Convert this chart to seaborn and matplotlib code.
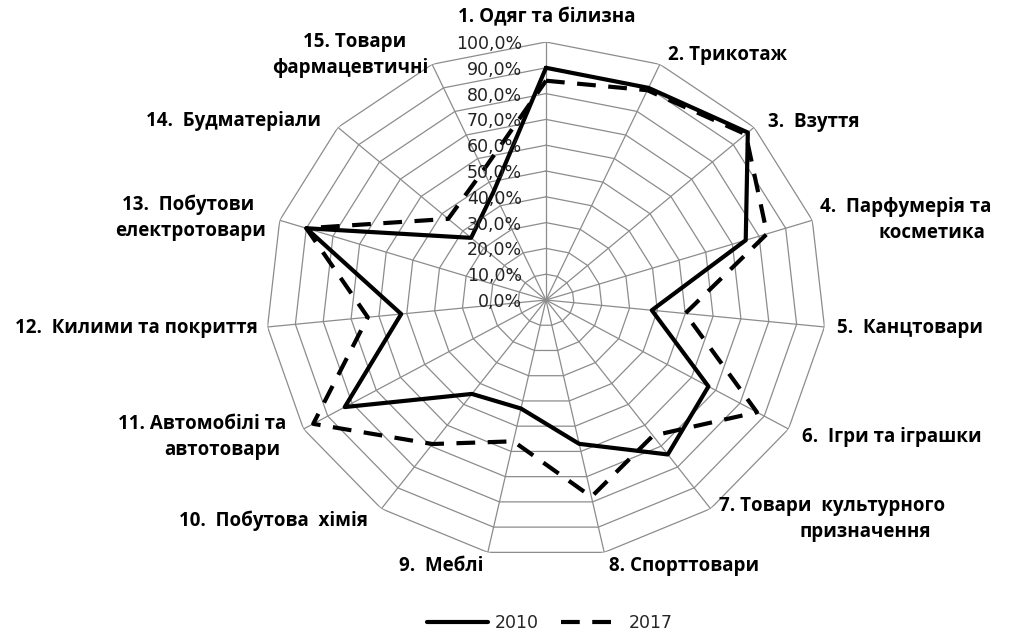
import numpy as np
import pandas as pd
import seaborn as sns
import matplotlib.pyplot as plt
from matplotlib.transforms import offset_copy

# Дані: частка по товарних групах, %
categories = ["1. Одяг та білизна", "2. Трикотаж", "3.  Взуття",
              "4.  Парфумерія та\nкосметика", "5.  Канцтовари",
              "6.  Ігри та іграшки", "7. Товари  культурного\nпризначення",
              "8. Спорттовари", "9.  Меблі", "10.  Побутова  хімія",
              "11. Автомобілі та\nавтотовари", "12.  Килими та покриття",
              "13.  Побутови\nелектротовари", "14.  Будматеріали",
              "15. Товари\nфармацевтичні"]
v2010 = [90, 90, 97, 75, 38, 67, 74, 57, 43, 45, 83, 52, 90, 36, 46]
v2017 = [85, 89, 96, 83, 50, 87, 65, 78, 56, 69, 96, 64, 90, 47, 55]
years = ["2010", "2017"]
r_ticks = np.arange(0, 101, 10)

n = len(categories)
theta = np.linspace(0, 2 * np.pi, n, endpoint=False)
theta_closed = np.append(theta, theta[0])

rows = []
for year, vals in zip(years, [v2010, v2017]):
    for t, v in zip(theta_closed, vals + vals[:1]):
        rows.append({"theta": t, "value": v, "year": year})
df = pd.DataFrame(rows)

sns.set_theme(style="white")
plt.rcParams['font.family'] = ['DejaVu Sans']

fig = plt.figure(figsize=(10.1, 6.35), dpi=100)
W, H = 1010, 635
# еліпс як у оригіналі (розтягнутий по горизонталі)
ax = fig.add_axes([266 / W, 1 - 558 / H, 560 / W, 516 / H], projection='polar')
ax.set_aspect('auto')
ax.set_theta_zero_location('N')
ax.set_theta_direction(-1)
ax.set_ylim(0, 100)
ax.grid(False)
ax.set_xticks([])
ax.set_yticks([])
ax.spines['polar'].set_visible(False)

grid_c = '#8c8c8c'
for lvl in r_ticks[1:]:
    ax.plot(theta_closed, [lvl] * (n + 1), color=grid_c, lw=0.9, zorder=1)
for t in theta:
    ax.plot([t, t], [0, 100], color=grid_c, lw=0.9, zorder=1)

sns.lineplot(data=df, x="theta", y="value", hue="year", style="year",
             palette={"2010": "black", "2017": "black"},
             dashes={"2010": "", "2017": (4.5, 3)},
             sort=False, estimator=None, lw=3, ax=ax, zorder=3)
ax.set_xlabel("")
ax.set_ylabel("")

# підписи шкали
tr = offset_copy(ax.transData, fig=fig, x=-24, y=-2, units='dots')
for r in r_ticks:
    ax.text(0, r, f"{r:.1f}%".replace('.', ','), transform=tr,
            ha='right', va='center', fontsize=12.5, color='#222222', zorder=4)

# підписи категорій (центр кожного рядка, px)
label_pos = [([547], 17), ([728], 55), ([814], 122), ([906, 932], 207),
             ([910], 328), ([892], 437), ([832, 865], 506), ([684], 566),
             ([441], 566), ([273], 521), ([202, 222], 424), ([136], 328),
             ([188, 191], 205), ([233], 121), ([355, 350], 42)]
for cat, (xs, y0) in zip(categories, label_pos):
    for k, (line, x) in enumerate(zip(cat.split("\n"), xs)):
        fig.text(x / W, 1 - (y0 + 26 * k) / H, line, ha='center', va='center',
                 fontsize=13.5, fontweight='bold',
                 family=['Open Sans', 'DejaVu Sans'], color='black')

sns.move_legend(ax, 'center', bbox_to_anchor=(550 / W, 1 - 623 / H),
                bbox_transform=fig.transFigure, ncol=2, frameon=False,
                title=None, fontsize=12.5, handlelength=3.5,
                handletextpad=0.4, columnspacing=1.3)

fig.savefig("out.png", dpi=100, facecolor='white')
